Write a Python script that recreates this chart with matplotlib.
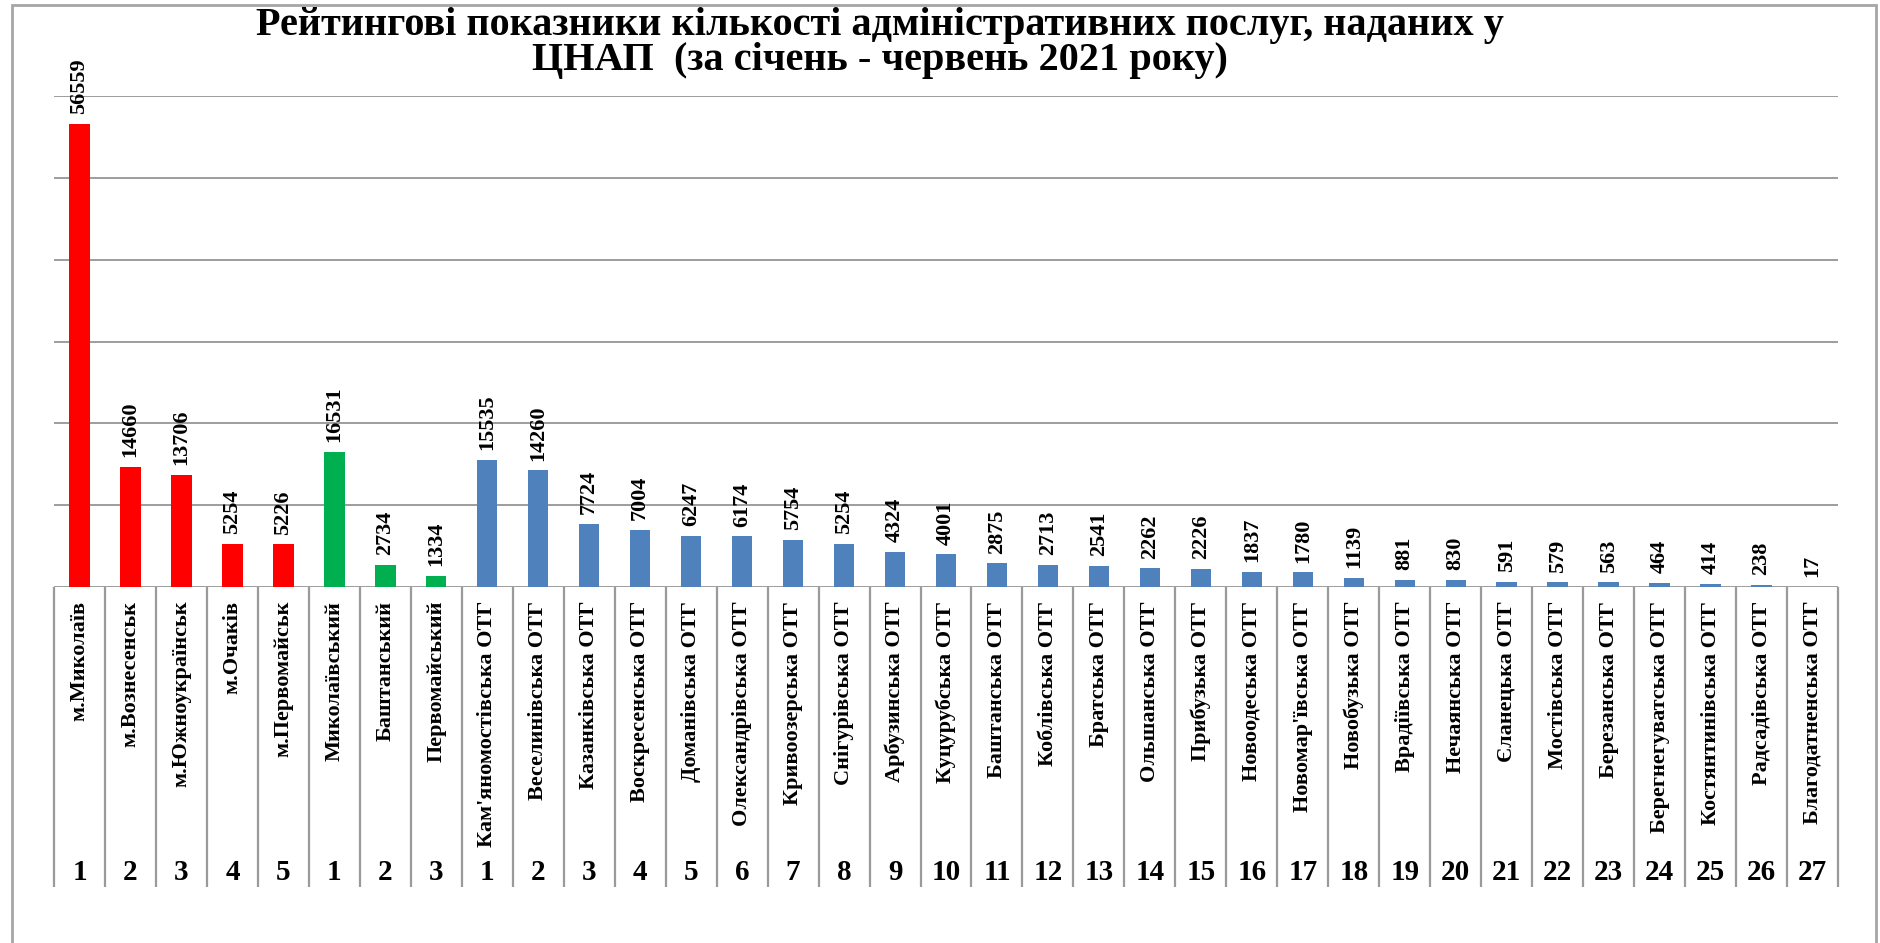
import matplotlib
matplotlib.use("Agg")
import matplotlib.pyplot as plt
from matplotlib.patches import Rectangle

# Дані: міста, райони, ОТГ
city_names = ["м.Миколаїв", "м.Вознесенськ", "м.Южноукраїнськ", "м.Очаків", "м.Первомайськ"]
city_values = [56559, 14660, 13706, 5254, 5226]

district_names = ["Миколаївський", "Баштанський", "Первомайський"]
district_values = [16531, 2734, 1334]

otg_names = [
    "Кам'яномостівська ОТГ", "Веселинівська ОТГ", "Казанківська ОТГ", "Воскресенська ОТГ",
    "Доманівська ОТГ", "Олександрівська ОТГ", "Кривоозерська ОТГ", "Снігурівська ОТГ",
    "Арбузинська ОТГ", "Куцурубська ОТГ", "Баштанська ОТГ", "Коблівська ОТГ",
    "Братська ОТГ", "Ольшанська ОТГ", "Прибузька ОТГ", "Новоодеська ОТГ",
    "Новомар'ївська ОТГ", "Новобузька ОТГ", "Врадіївська ОТГ", "Нечаянська ОТГ",
    "Єланецька ОТГ", "Мостівська ОТГ", "Березанська ОТГ", "Берегнегуватська ОТГ",
    "Костянтинівська ОТГ", "Радсадівська ОТГ", "Благодатненська ОТГ",
]
otg_values = [15535, 14260, 7724, 7004, 6247, 6174, 5754, 5254, 4324, 4001, 2875, 2713,
              2541, 2262, 2226, 1837, 1780, 1139, 881, 830, 591, 579, 563, 464, 414, 238, 17]

title = ("Рейтингові показники кількості адміністративних послуг, наданих у\n"
         "ЦНАП  (за січень - червень 2021 року)")

group_colors = ["#FF0000", "#00B050", "#4F81BD"]

# Зібрати все в один ряд
groups = [(city_names, city_values), (district_names, district_values), (otg_names, otg_values)]
names, values, ranks, colors = [], [], [], []
for (g_names, g_values), col in zip(groups, group_colors):
    names += g_names
    values += g_values
    ranks += [str(i + 1) for i in range(len(g_names))]
    colors += [col] * len(g_names)

plt.rcParams['font.family'] = ['Liberation Serif', 'DejaVu Serif']
plt.rcParams['font.weight'] = 'bold'

W, H = 1881, 943
fig = plt.figure(figsize=(W / 100, H / 100), dpi=100)
fig.patch.set_facecolor('white')
ax = fig.add_axes([54 / W, (H - 587) / H, (1838 - 54) / W, (587 - 96) / H])

x = list(range(len(names)))
ax.bar(x, values, width=0.4, color=colors, zorder=3)

ax.set_xlim(-0.5, len(names) - 0.5)
ax.set_ylim(0, 60000)
ax.set_yticks(range(0, 60001, 10000))
ax.yaxis.grid(True, color='#8c8c8c', linewidth=1.2, zorder=0)
ax.set_yticklabels([])
ax.set_xticks([])
ax.tick_params(axis='y', length=0)
for s in ax.spines.values():
    s.set_visible(False)

# підписи значень
for xi, v in zip(x, values):
    ax.annotate(str(v), (xi, v), xytext=(0, 7), textcoords='offset points',
                rotation=90, ha='center', va='bottom', fontsize=16, fontweight='bold')

# таблиця категорій під віссю
trans = ax.get_xaxis_transform()
ax.vlines([i - 0.5 for i in range(len(names) + 1)], -0.611, 0, transform=trans,
          color='#9a9a9a', linewidth=1.6, clip_on=False)
for xi, name, r in zip(x, names, ranks):
    ax.text(xi, -0.028, name, transform=trans, rotation=90, ha='center', va='top',
            fontsize=16, fontweight='bold')
    ax.text(xi, -0.582, r, transform=trans, ha='center', va='center',
            fontsize=21, fontweight='bold')

fig.text(880 / W, 1 - 43 / H, title, ha='center', va='center', fontsize=29,
         fontweight='bold', linespacing=0.95)

# рамка діаграми
fig.patches.append(Rectangle((12 / W, -0.05), (1876 - 12) / W, 1.05 - 5 / H,
                             transform=fig.transFigure, fill=False,
                             edgecolor='#a6a6a6', linewidth=2))

fig.savefig("out.png", dpi=100)
